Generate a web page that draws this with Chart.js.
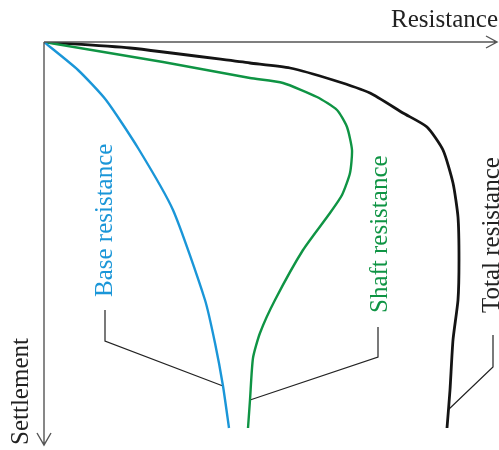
<!DOCTYPE html>
<html>
<head>
<meta charset="utf-8">
<script src="https://cdn.jsdelivr.net/npm/chart.js@4/dist/chart.umd.min.js"></script>
<style>
html,body{margin:0;padding:0;background:#fff;}
#wrap{width:499px;height:450px;position:relative;}
</style>
</head>
<body>
<div id="wrap"><canvas id="c" width="499" height="450"></canvas></div>
<script>
// Resistance (x) and settlement (y, downward)
const baseX  = [0, 34, 62, 94, 129, 161, 171, 179, 185];
const baseY  = [0, 28, 58, 106, 168, 258, 301, 344, 386];
const shaftX = [0, 119, 206, 239, 273, 293, 303, 308, 306, 298, 286, 259, 231, 216, 209, 206, 204];
const shaftY = [0, 20, 36, 41, 55, 68, 85, 108, 131, 153, 171, 208, 258, 291, 316, 358, 386];
const totalX = [0, 86, 206, 246, 289, 326, 359, 383, 399, 409, 414, 415, 414, 409, 406, 403];
const totalY = [0, 6, 21, 26, 38, 51, 71, 85, 108, 141, 175, 218, 258, 298, 348, 386];
// leader lines (label -> curve)
const leadBaseX  = [61, 61, 179];
const leadBaseY  = [268, 299, 344];
const leadShaftX = [334, 334, 206];
const leadShaftY = [285, 315, 358];
const leadTotalX = [449, 449, 404];
const leadTotalY = [293, 325, 368];

const labels = {
  xTitle: 'Resistance',
  yTitle: 'Settlement',
  base: 'Base resistance',
  shaft: 'Shaft resistance',
  total: 'Total resistance'
};

const pts = (xs, ys) => xs.map((x, i) => ({x: x, y: ys[i]}));

const BLUE = '#1a96d8', GREEN = '#0f9444', BLACK = '#141414';

const decor = {
  id: 'decor',
  afterDraw(chart) {
    const ctx = chart.ctx;
    const xs = chart.scales.x, ys = chart.scales.y;
    const x0 = xs.getPixelForValue(0), y0 = ys.getPixelForValue(0);
    const xEnd = xs.right, yEnd = ys.bottom;
    ctx.save();
    ctx.strokeStyle = '#555';
    ctx.lineWidth = 1.4;
    ctx.beginPath();
    ctx.moveTo(x0, y0); ctx.lineTo(xEnd, y0);
    ctx.moveTo(x0, y0); ctx.lineTo(x0, yEnd);
    // arrows
    ctx.moveTo(xEnd - 11, y0 - 6); ctx.lineTo(xEnd, y0); ctx.lineTo(xEnd - 11, y0 + 6);
    ctx.moveTo(x0 - 7, yEnd - 12); ctx.lineTo(x0, yEnd); ctx.lineTo(x0 + 7, yEnd - 12);
    ctx.stroke();

    ctx.font = '25px "Liberation Serif", "Times New Roman", serif';
    ctx.textBaseline = 'alphabetic';
    ctx.fillStyle = '#222';
    ctx.textAlign = 'right';
    ctx.fillText(labels.xTitle, 498, 27);

    const vtext = (txt, bx, by, color) => {
      ctx.save();
      ctx.translate(bx, by);
      ctx.rotate(-Math.PI / 2);
      ctx.fillStyle = color;
      ctx.textAlign = 'left';
      ctx.fillText(txt, 0, 0);
      ctx.restore();
    };
    vtext(labels.yTitle, 28, 445, '#222');
    vtext(labels.base, 112, 297, BLUE);
    vtext(labels.shaft, 387, 313, GREEN);
    vtext(labels.total, 499, 313, '#222');
    ctx.restore();
  }
};

const lineDs = (data, color, w) => ({
  data: data, borderColor: color, borderWidth: w, showLine: true,
  pointRadius: 0, fill: false, tension: 0.2, borderJoinStyle: 'round'
});
const leadDs = (data) => ({
  data: data, borderColor: '#222', borderWidth: 1.2, showLine: true,
  pointRadius: 0, fill: false, tension: 0
});

new Chart(document.getElementById('c'), {
  type: 'scatter',
  data: {
    datasets: [
      lineDs(pts(baseX, baseY), BLUE, 2.4),
      lineDs(pts(shaftX, shaftY), GREEN, 2.4),
      lineDs(pts(totalX, totalY), BLACK, 2.8),
      leadDs(pts(leadBaseX, leadBaseY)),
      leadDs(pts(leadShaftX, leadShaftY)),
      leadDs(pts(leadTotalX, leadTotalY))
    ]
  },
  options: {
    responsive: false,
    animation: false,
    devicePixelRatio: 1,
    layout: {padding: {left: 44, top: 42, right: 2, bottom: 5}},
    plugins: {legend: {display: false}, tooltip: {enabled: false}},
    scales: {
      x: {type: 'linear', min: 0, max: 453, display: false},
      y: {type: 'linear', min: 0, max: 403, reverse: true, display: false}
    }
  },
  plugins: [decor]
});
</script>
</body>
</html>
